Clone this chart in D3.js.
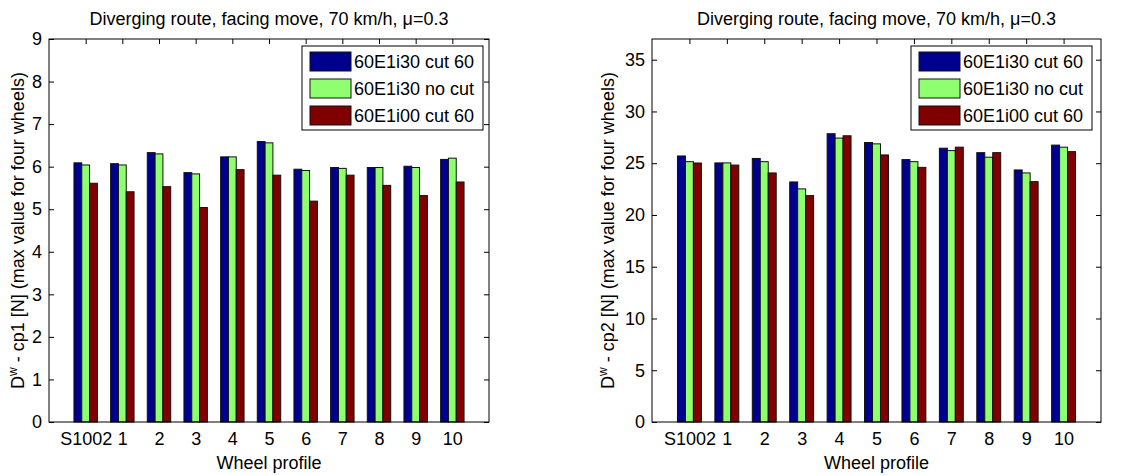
<!DOCTYPE html>
<html><head><meta charset="utf-8">
<script src="https://cdn.jsdelivr.net/npm/d3@7"></script>
<style>
body{margin:0;background:#fff}
svg{display:block}
text{font-family:"Liberation Sans",Arial,Helvetica,sans-serif;fill:#000}
</style>
</head><body>
<svg id="chart" width="1148" height="476"></svg>
<script>
// ---- data ----
const categories = ["S1002","1","2","3","4","5","6","7","8","9","10"];
const seriesNames = ["60E1i30 cut 60","60E1i30 no cut","60E1i00 cut 60"];
const seriesColors = ["#00008f","#8fff70","#800000"];

const cp1_i30cut   = [6.09,6.07,6.33,5.86,6.23,6.59,5.94,5.98,5.98,6.01,6.17];
const cp1_i30nocut = [6.04,6.04,6.30,5.83,6.23,6.56,5.91,5.96,5.98,5.98,6.20];
const cp1_i00cut   = [5.61,5.41,5.53,5.04,5.93,5.80,5.19,5.80,5.56,5.32,5.64];

const cp2_i30cut   = [25.70,25.03,25.46,23.19,27.85,27.00,25.35,26.45,26.02,24.35,26.75];
const cp2_i30nocut = [25.15,25.03,25.15,22.52,27.43,26.87,25.15,26.22,25.58,24.06,26.55];
const cp2_i00cut   = [25.02,24.82,24.06,21.87,27.65,25.80,24.60,26.55,26.02,23.22,26.12];

const cp1Ticks = [0,1,2,3,4,5,6,7,8,9];
const cp2Ticks = [0,5,10,15,20,25,30,35];

const titleText = "Diverging route, facing move, 70 km/h, \u03bc=0.3";
const xLabelText = "Wheel profile";

// ---- drawing ----
const svg = d3.select("#chart");
const FS = 18;

function panel(opts){
  const {x0,x1,y0,y1,ymax,ticks,series,yLabelMain,yLabelX,legendX} = opts;
  const g = svg.append("g");
  const x = d3.scaleLinear().domain([0,12]).range([x0,x1]);
  const y = d3.scaleLinear().domain([0,ymax]).range([y1,y0]);
  const xt = categories.map((c,i)=>i+1);

  // ticks (drawn below bars)
  const ax = g.append("g");
  ax.append("g").attr("transform",`translate(${x0},0)`)
    .call(d3.axisLeft(y).tickValues(ticks).tickSize(-5).tickPadding(7).tickFormat(d3.format("d")));
  ax.append("g").attr("transform",`translate(${x1},0)`)
    .call(d3.axisRight(y).tickValues(ticks).tickSize(-5).tickFormat(""));
  ax.append("g").attr("transform",`translate(0,${y0})`)
    .call(d3.axisTop(x).tickValues(xt).tickSize(-5).tickFormat(""));
  ax.append("g").attr("transform",`translate(0,${y1})`)
    .call(d3.axisBottom(x).tickValues(xt).tickSize(-5).tickPadding(10).tickFormat((d)=>categories[d-1]));
  ax.selectAll(".domain").remove();
  ax.selectAll(".tick line").attr("stroke","#000").attr("stroke-width",1);
  ax.selectAll(".tick text").attr("font-size",FS).attr("font-family",null);

  // bars
  const bw = 0.213;
  series.forEach((vals,j)=>{
    g.append("g").selectAll("rect").data(vals).join("rect")
      .attr("x",(d,i)=>x(i+1+(j-1.5)*bw))
      .attr("width",x(bw)-x(0))
      .attr("y",d=>y(d))
      .attr("height",d=>y(0)-y(d))
      .attr("fill",seriesColors[j])
      .attr("stroke","#111").attr("stroke-width",1);
  });

  // box
  g.append("rect").attr("x",x0).attr("y",y0).attr("width",x1-x0).attr("height",y1-y0)
    .attr("fill","none").attr("stroke","#000").attr("stroke-width",1);

  // title
  g.append("text").attr("x",(x0+x1)/2).attr("y",25).attr("text-anchor","middle")
    .attr("font-size",FS).text(titleText);
  // x label
  g.append("text").attr("x",(x0+x1)/2).attr("y",469).attr("text-anchor","middle")
    .attr("font-size",FS).text(xLabelText);
  // y label
  const yl = g.append("text").attr("transform",`translate(${yLabelX},${(y0+y1)/2}) rotate(-90)`)
    .attr("text-anchor","middle").attr("font-size",FS);
  yl.append("tspan").text("D");
  yl.append("tspan").attr("dy",-7).attr("font-size",12).text("w");
  yl.append("tspan").attr("dy",7).text(yLabelMain);

  // legend
  const lg = g.append("g").attr("transform",`translate(${legendX},46)`);
  lg.append("rect").attr("width",181).attr("height",84).attr("fill","#fff").attr("stroke","#000");
  seriesNames.forEach((n,j)=>{
    lg.append("rect").attr("x",8).attr("y",6+j*27).attr("width",41).attr("height",19)
      .attr("fill",seriesColors[j]).attr("stroke","#111");
    lg.append("text").attr("x",52).attr("y",22+j*27).attr("font-size",FS).text(n);
  });
}

panel({x0:49,x1:489,y0:39,y1:422,ymax:9,ticks:cp1Ticks,
  series:[cp1_i30cut,cp1_i30nocut,cp1_i00cut],
  yLabelMain:" - cp1 [N] (max value for four wheels)",yLabelX:24,legendX:302});
panel({x0:652,x1:1101,y0:39,y1:422,ymax:37,ticks:cp2Ticks,
  series:[cp2_i30cut,cp2_i30nocut,cp2_i00cut],
  yLabelMain:" - cp2 [N] (max value for four wheels)",yLabelX:614,legendX:911});
</script>
</body></html>
